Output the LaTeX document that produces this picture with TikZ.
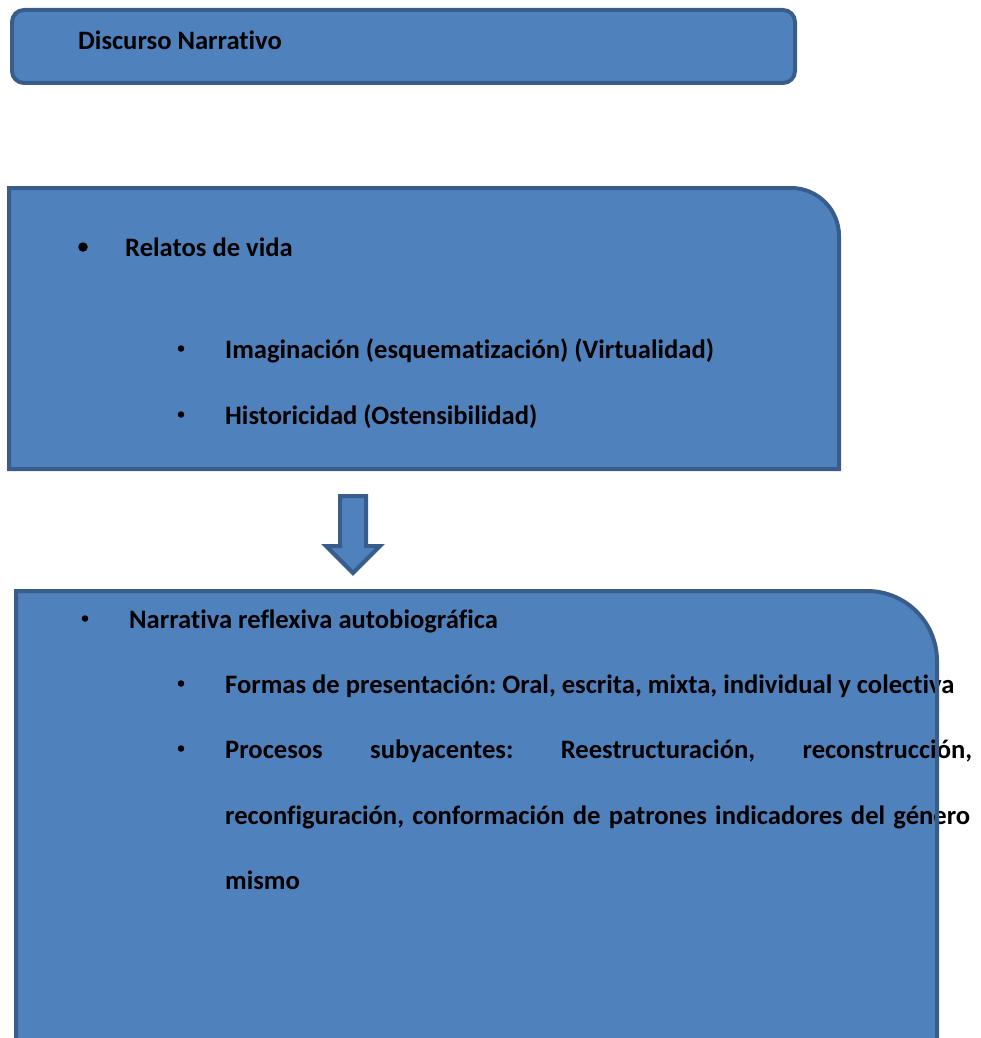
\documentclass[tikz,border=0pt]{standalone}
\usepackage{fontspec}
\setmainfont{Carlito}[Ligatures={NoCommon}]
\definecolor{boxfill}{HTML}{4F81BD}
\definecolor{boxline}{HTML}{385D8A}
\begin{document}
\frenchspacing
\begin{tikzpicture}[x=1pt,y=-1pt,
  boxfillstyle/.style={fill=boxfill},
  boxlinestyle/.style={draw=boxline,line width=4pt},
  txt/.style={anchor=base west,inner sep=0pt,font=\fontsize{26.6}{32}\bfseries\selectfont},
  bul/.style={anchor=center,inner sep=0pt,circle,fill=black,minimum size=6.5pt},
  bigbul/.style={anchor=center,inner sep=0pt,circle,fill=black,minimum size=9.5pt}]
\useasboundingbox (0,0) rectangle (980,1038);
\clip (0,0) rectangle (980,1038);
% box 1
\draw[boxfillstyle,boxlinestyle,rounded corners=12pt] (12,10) rectangle (795,83);
\node[txt] (t1) at (78,50) {Discurso Narrativo};
% box 2
\path[boxfillstyle] (9,469) -- (9,188) -- (791,188) arc[start angle=-90,end angle=0,radius=48] -- (839,469) -- cycle;
\node[bigbul] (b2) at (83,247) {};
\node[txt] (t2) at (125,256) {Relatos de vida};
\node[bul] (b21) at (181,348.5) {};
\node[txt] (t21) at (225,358) {Imaginación (esquematización) (Virtualidad)};
\node[bul] (b22) at (181,414.5) {};
\node[txt] (t22) at (225,424) {Historicidad (Ostensibilidad)};
\draw[boxlinestyle] (9,469) -- (9,188) -- (791,188) arc[start angle=-90,end angle=0,radius=48] -- (839,469) -- cycle;
% arrow
\draw[boxfillstyle,boxlinestyle,line join=miter] (340,496) -- (366,496) -- (366,546) -- (380,546) -- (353,573) -- (326,546) -- (340,546) -- cycle;
% box 3
\path[boxfillstyle] (16,1060) -- (16,591) -- (867,591) arc[start angle=-90,end angle=0,radius=70] -- (937,1060) -- cycle;
\node[bul] (b3) at (85,618.5) {};
\node[txt] (t3) at (129,628) {Narrativa reflexiva autobiográfica};
\node[bul] (b31) at (181,683.5) {};
\node[txt] (t31) at (225,693) {Formas de presentación: Oral, escrita, mixta, individual y colectiva};
\node[bul] (b32) at (181,748.5) {};
\node[txt] (t32) at (225,758) {\makebox[747pt][s]{Procesos subyacentes: Reestructuración, reconstrucción,}};
\node[txt] (t33) at (225,824) {\makebox[745pt][s]{reconfiguración, conformación de patrones indicadores del género}};
\node[txt] (t34) at (225,889) {mismo};
\draw[boxlinestyle] (16,1060) -- (16,591) -- (867,591) arc[start angle=-90,end angle=0,radius=70] -- (937,1060);
\end{tikzpicture}
\end{document}
